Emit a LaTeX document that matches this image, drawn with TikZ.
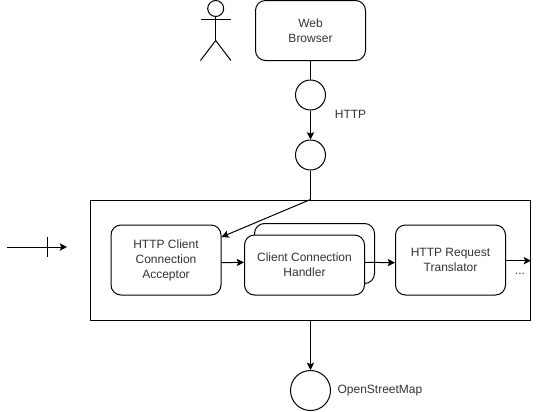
\documentclass[tikz,border=0pt]{standalone}
\usepackage{fontspec}
\usetikzlibrary{arrows.meta}
\setmainfont{Liberation Sans}

\begin{document}
\begin{tikzpicture}[node distance=60pt, every node/.style={align=center, font=\fontsize{9pt}{11.25pt}\selectfont, text=black!80}, >={Stealth[length=5.5pt,width=5.5pt,inset=1.2pt]}, line width=0.75pt]
    % styles
    \tikzstyle{component} = [rectangle, rounded corners=7.5pt, draw=black, fill=white, minimum width=82.5pt, minimum height=52.5pt]
    \tikzstyle{handler} = [component, minimum width=90pt, minimum height=45pt]
    \tikzstyle{port} = [circle, draw=black, fill=white, inner sep=0pt, minimum size=22.5pt]
    \tikzstyle{label} = [inner sep=0pt]
    \tikzstyle{arrow} = [->]

    \useasboundingbox (0,0) rectangle (404.25pt,-308.25pt);

    % top
    \node[component, minimum height=45pt] (browser) at (232.875pt,-22.875pt) {Web\\Browser};
    \node[port, below of=browser, yshift=11.625pt] (portTop) {};
    \node[port, below of=portTop, yshift=15pt] (portBottom) {};
    \node[label, right of=portTop, xshift=-30pt, yshift=-14.6pt] (httpLabel) {HTTP};

    % actor
    \node[port, minimum size=12pt, left of=browser, xshift=-11.1pt, yshift=16.5pt] (actorHead) {};
    \coordinate[below of=actorHead, yshift=36pt] (actorHip);
    \coordinate[below of=actorHead, yshift=51.4pt] (actorNeck);
    \coordinate[left of=actorNeck, xshift=48.6pt] (actorArmL);
    \coordinate[right of=actorNeck, xshift=-48.6pt] (actorArmR);
    \coordinate[below of=actorHip, yshift=45pt] (actorFoot);
    \coordinate[left of=actorFoot, xshift=48.6pt] (actorFootL);
    \coordinate[right of=actorFoot, xshift=-48.6pt] (actorFootR);
    \draw (actorHead) -- (actorHip);
    \draw (actorArmL) -- (actorArmR);
    \draw (actorFootL) -- (actorHip) -- (actorFootR);

    % main box
    \node[rectangle, draw=black, minimum width=330pt, minimum height=90pt, below of=portBottom, yshift=-18.75pt] (frame) {};
    \node[component, left of=frame, xshift=-48.375pt] (acceptor) {HTTP Client\\Connection\\Acceptor};
    \node[handler, right of=frame, xshift=-57pt, yshift=4.875pt] (handlerBack) {};
    \node[handler, right of=acceptor, xshift=43.875pt, yshift=-3.75pt] (handlerFront) {Client Connection\\Handler};
    \node[component, right of=handlerFront, xshift=49.5pt, yshift=3.75pt] (translator) {HTTP Request\\Translator};
    \node[label, right of=translator, xshift=-7.9pt, yshift=-10.5pt] (moreLabel) {...};

    % left arrow
    \coordinate (inStart) at (5.25pt,-185.25pt);
    \coordinate (inEnd) at (50.25pt,-185.25pt);
    \coordinate (inTickTop) at (35.6pt,-178pt);
    \coordinate (inTickBottom) at (35.6pt,-192.8pt);
    \draw[arrow] (inStart) -- (inEnd);
    \draw (inTickTop) -- (inTickBottom);

    % bottom
    \node[port, minimum size=30pt, below of=frame, yshift=-37.875pt] (osm) {};
    \node[label, right of=osm, xshift=-7.9pt] (osmLabel) {OpenStreetMap};

    % arrows
    \draw (browser) -- (portTop);
    \draw[arrow] (portTop) -- (portBottom);
    \draw (portBottom) -- (frame.north);
    \draw[arrow] (frame.north) -- ([yshift=17.25pt]acceptor.east);
    \draw[arrow] ([yshift=-2pt]acceptor.east) -- ([yshift=2pt]handlerFront.west);
    \draw[arrow] ([yshift=2pt]handlerFront.east) -- ([yshift=-2pt]translator.west);
    \draw[arrow] ([yshift=-0.5pt]translator.east) -- ([yshift=-0.5pt]frame.east);
    \draw[arrow] (frame.south) -- (osm);
  \end{tikzpicture}
\end{document}
